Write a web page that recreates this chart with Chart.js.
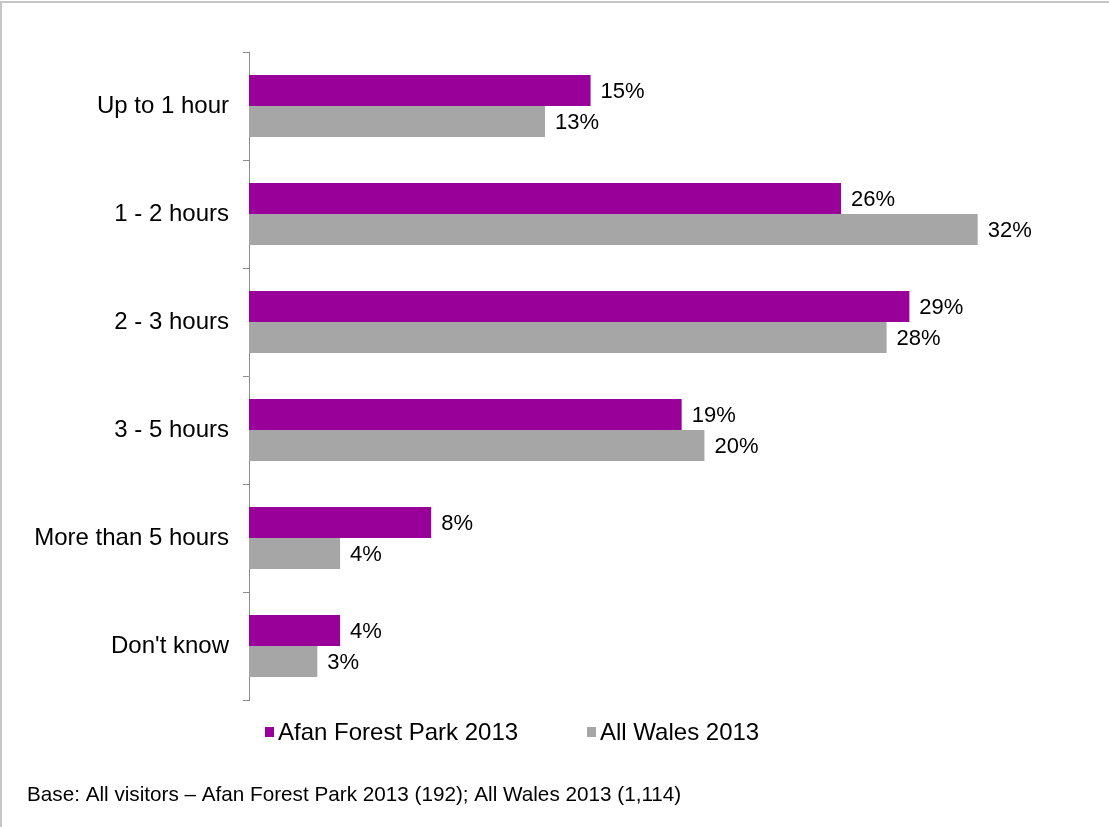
<!DOCTYPE html>
<html>
<head>
<meta charset="utf-8">
<style>
  html, body { margin: 0; padding: 0; background: #fff; }
  #wrap { position: relative; width: 1109px; height: 827px; }
</style>
<script src="https://cdn.jsdelivr.net/npm/chart.js@4/dist/chart.umd.min.js"></script>
</head>
<body>
<div id="wrap"><canvas id="timeChart" width="1109" height="827"></canvas></div>
<script>
const categories = ['Up to 1 hour', '1 - 2 hours', '2 - 3 hours', '3 - 5 hours', 'More than 5 hours', "Don't know"];
const afanValues = [15, 26, 29, 19, 8, 4];
const walesValues = [13, 32, 28, 20, 4, 3];
const seriesNames = ['Afan Forest Park 2013', 'All Wales 2013'];
const baseNote = 'Base: All visitors \u2013 Afan Forest Park 2013 (192); All Wales 2013 (1,114)';

const FONT = '"Liberation Sans", Arial, sans-serif';

// frame, value labels, legend and base note
const extras = {
    id: 'extras',
    beforeDraw(chart) {
        const ctx = chart.ctx;
        ctx.save();
        ctx.strokeStyle = '#c6c6c6';
        ctx.lineWidth = 2;
        ctx.beginPath();
        ctx.moveTo(0, 2);
        ctx.lineTo(1109, 2);
        ctx.moveTo(1, 2);
        ctx.lineTo(1, 827);
        ctx.stroke();
        ctx.restore();
    },
    afterDatasetsDraw(chart) {
        const ctx = chart.ctx;
        ctx.save();
        ctx.font = '22px ' + FONT;
        ctx.fillStyle = '#000';
        ctx.textBaseline = 'middle';
        ctx.textAlign = 'left';
        chart.data.datasets.forEach(function (ds, i) {
            chart.getDatasetMeta(i).data.forEach(function (bar, j) {
                ctx.fillText(ds.data[j] + '%', bar.x + 10, bar.y + 1);
            });
        });

        // legend
        const legendX = [265, 587];
        ctx.font = '24px ' + FONT;
        chart.data.datasets.forEach(function (ds, i) {
            ctx.fillStyle = ds.backgroundColor;
            ctx.fillRect(legendX[i], 727, 9, 10);
            ctx.fillStyle = '#000';
            ctx.fillText(ds.label, legendX[i] + 13, 733);
        });

        ctx.font = '20.7px ' + FONT;
        ctx.fillText(baseNote, 27, 795);
        ctx.restore();
    }
};

new Chart(document.getElementById('timeChart'), {
    type: 'bar',
    data: {
        labels: categories,
        datasets: [{
            label: seriesNames[0],
            data: afanValues,
            backgroundColor: '#990099',
            barPercentage: 1,
            categoryPercentage: 0.574
        }, {
            label: seriesNames[1],
            data: walesValues,
            backgroundColor: '#a6a6a6',
            barPercentage: 1,
            categoryPercentage: 0.574
        }]
    },
    options: {
        indexAxis: 'y',
        responsive: false,
        animation: false,
        layout: { padding: { left: 0, top: 52, right: 63, bottom: 127 } },
        plugins: {
            legend: { display: false },
            tooltip: { enabled: false }
        },
        scales: {
            x: {
                display: false,
                min: 0,
                max: 35
            },
            y: {
                afterFit: function (scale) { scale.width = 249; },
                grid: {
                    offset: true,
                    drawOnChartArea: false,
                    tickLength: 6,
                    color: '#8c8c8c'
                },
                border: { display: true, color: '#8c8c8c', width: 1 },
                ticks: {
                    color: '#000',
                    padding: 14,
                    font: { family: FONT, size: 24 }
                }
            }
        }
    },
    plugins: [extras]
});
</script>
</body>
</html>
